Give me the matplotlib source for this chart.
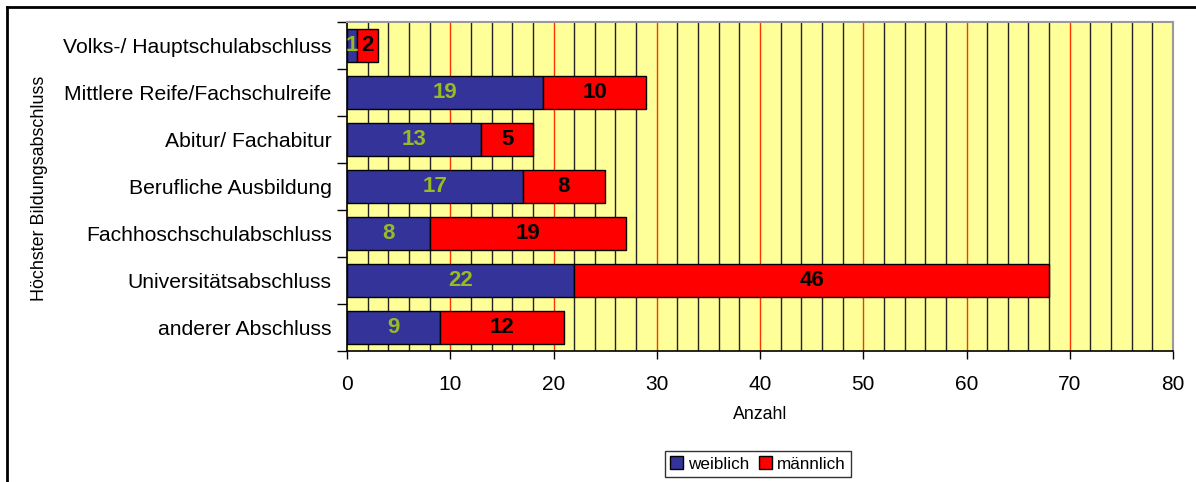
import matplotlib
matplotlib.use("Agg")
import matplotlib.pyplot as plt
from matplotlib.lines import Line2D
from matplotlib.patches import Patch
import numpy as np

plt.rcParams['font.family'] = ['Liberation Sans', 'DejaVu Sans']

categories = [
    "Volks-/ Hauptschulabschluss",
    "Mittlere Reife/Fachschulreife",
    "Abitur/ Fachabitur",
    "Berufliche Ausbildung",
    "Fachhoschschulabschluss",
    "Universitätsabschluss",
    "anderer Abschluss",
]
weiblich = [1, 19, 13, 17, 8, 22, 9]
maennlich = [2, 10, 5, 8, 19, 46, 12]
series_names = ["weiblich", "männlich"]
x_ticks = [0, 10, 20, 30, 40, 50, 60, 70, 80]

BLUE = "#333399"
RED = "#FF0000"
GREEN_TXT = "#99BB22"
PLOT_BG = "#FFFF99"

fig = plt.figure(figsize=(11.96, 4.82), dpi=100)
ax = fig.add_axes([347 / 1196, 1 - 351 / 482, (1173 - 347) / 1196, (351 - 22) / 482])
ax.set_facecolor(PLOT_BG)

# vertical grid: every 2 units, red at multiples of 10
for v in range(2, 80, 2):
    col = "#FF3300" if v % 10 == 0 else "#222222"
    ax.axvline(v, color=col, lw=1.0, zorder=1)

y = np.arange(len(categories))
h = 0.72
ax.barh(y, weiblich, height=h, color=BLUE, edgecolor="black", lw=1.0, zorder=3)
ax.barh(y, maennlich, left=weiblich, height=h, color=RED, edgecolor="black", lw=1.0, zorder=3)

for yi, w, m in zip(y, weiblich, maennlich):
    ax.text(w / 2, yi, str(w), ha="center", va="center", color=GREEN_TXT,
            fontsize=16, fontweight="bold", zorder=4)
    ax.text(w + m / 2, yi, str(m), ha="center", va="center", color="black",
            fontsize=16, fontweight="bold", zorder=4)

ax.set_xlim(0, 80)
ax.set_ylim(len(categories) - 0.5, -0.5)
ax.set_xticks(x_ticks)
ax.set_xticklabels([str(t) for t in x_ticks], fontsize=15)
ax.set_yticks(y)
ax.set_yticklabels(categories, fontsize=15.2)
ax.tick_params(axis="y", length=0, pad=11)
ax.tick_params(axis="x", length=6, width=1, color="black", pad=11)

# y ticks at category boundaries
ax.set_yticks(np.arange(-0.5, len(categories), 1.0), minor=True)
ax.tick_params(axis="y", which="minor", length=7, width=1, color="black")

for side in ("top", "right"):
    ax.spines[side].set_color("#999999")
    ax.spines[side].set_linewidth(1.5)
for side in ("left", "bottom"):
    ax.spines[side].set_color("black")
    ax.spines[side].set_linewidth(1.2)

ax.set_xlabel("Anzahl", fontsize=12.8, labelpad=9)
fig.text(40 / 1196, 1 - 188 / 482, "Höchster Bildungsabschluss", rotation=90,
         ha="center", va="center", fontsize=12.9)

handles = [Patch(facecolor=BLUE, edgecolor="black", lw=1),
           Patch(facecolor=RED, edgecolor="black", lw=1)]
leg = fig.legend(handles, series_names, loc="center", bbox_to_anchor=(758 / 1196, 1 - 464 / 482),
                 ncol=2, fontsize=12.3, frameon=True, fancybox=False, edgecolor="black",
                 handlelength=0.75, handleheight=0.75, handletextpad=0.3, columnspacing=0.6,
                 borderpad=0.3)
leg.get_frame().set_linewidth(1.0)

# outer chart frame
fig.add_artist(Line2D([7 / 1196, 1.0], [1 - 7 / 482, 1 - 7 / 482], color="black", lw=2,
                      transform=fig.transFigure))
fig.add_artist(Line2D([7 / 1196, 7 / 1196], [1 - 7 / 482, 0.0], color="black", lw=2,
                      transform=fig.transFigure))

fig.savefig("out.png", dpi=100, facecolor="white")
